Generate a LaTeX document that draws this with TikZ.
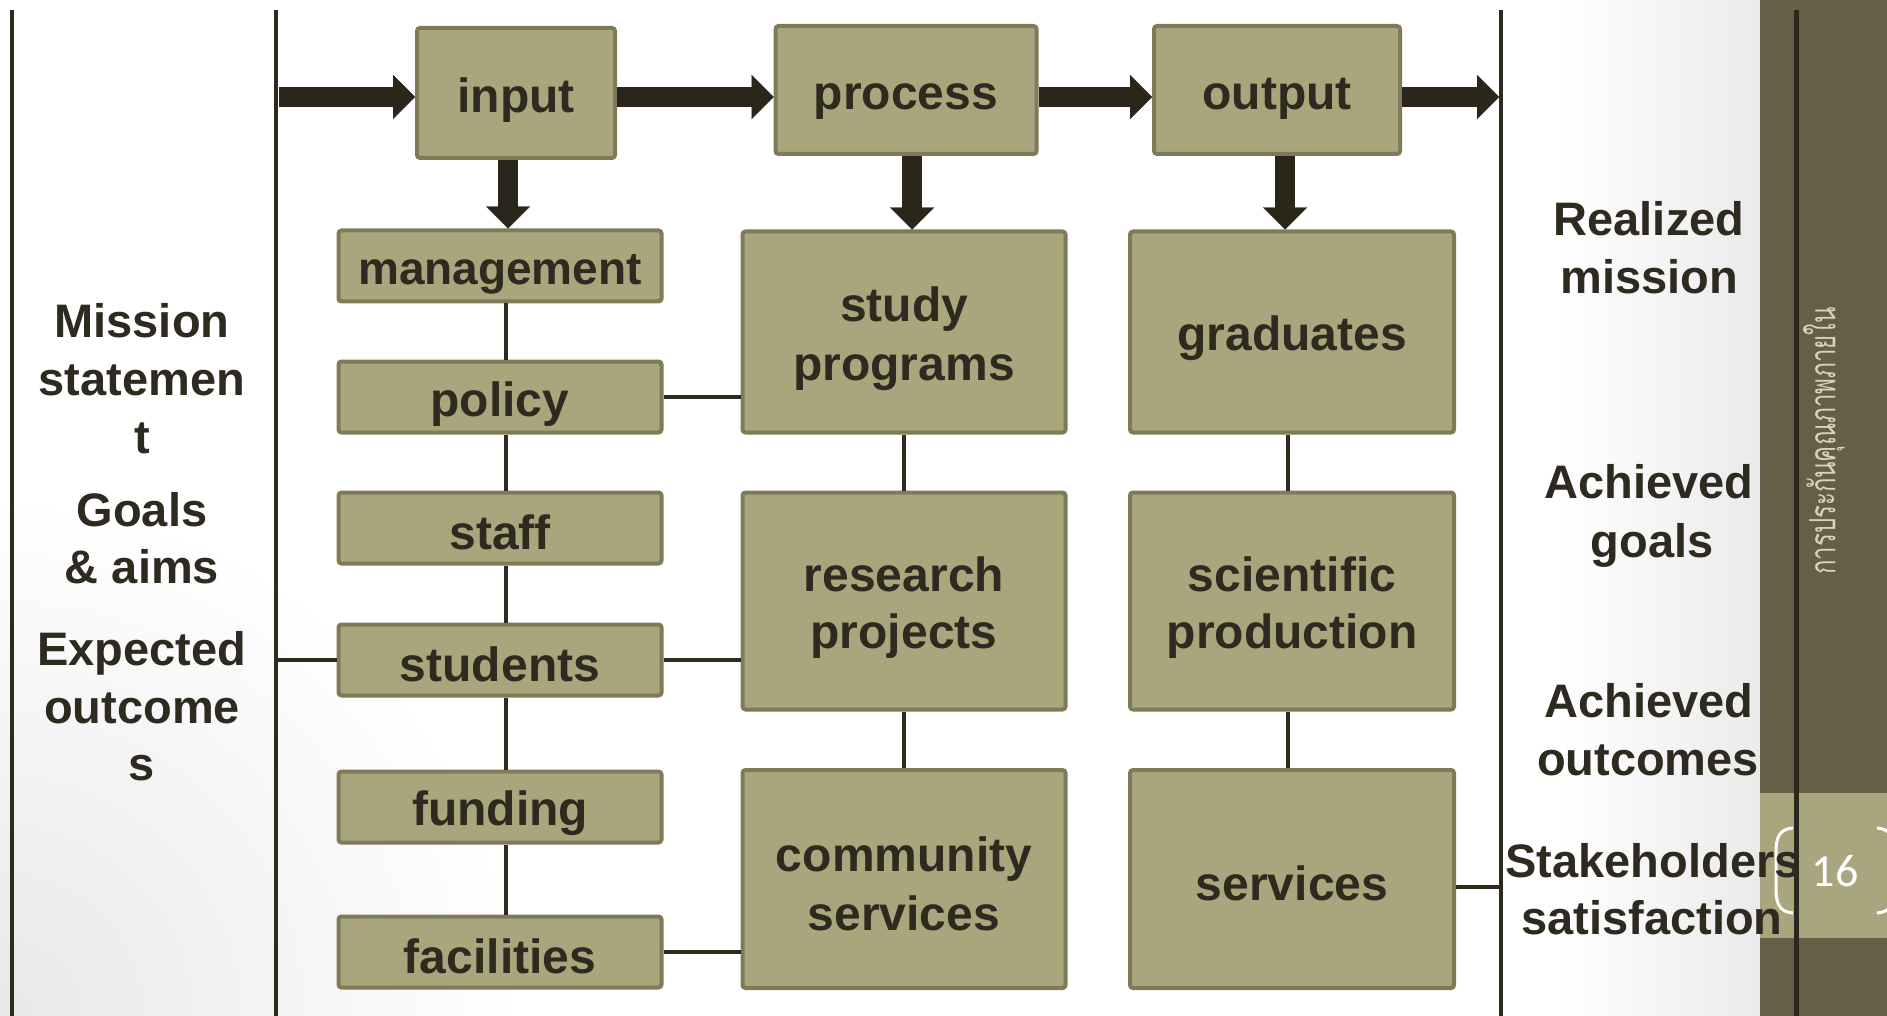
\documentclass[tikz,border=0pt]{standalone}
\usepackage{fontspec}
\setmainfont{Liberation Sans}
\newfontfamily\thaifont[Script=Thai]{Loma}
\newfontfamily\numfont{Carlito}
\usetikzlibrary{arrows.meta,calc}
\definecolor{boxfill}{HTML}{A9A57C}
\definecolor{boxborder}{HTML}{7F7A58}
\definecolor{txt}{HTML}{2E2A1F}
\definecolor{linec}{HTML}{2E2A20}
\definecolor{arrowc}{HTML}{2A2619}
\definecolor{sidebar}{HTML}{665E47}
\definecolor{sidelight}{HTML}{A9A57E}
\definecolor{sideline}{HTML}{2B281E}
\definecolor{thaic}{HTML}{D9D4B4}
\newcommand{\boxstrut}{\rule[-0.10em]{0pt}{1.10em}}
\begin{document}
\begin{tikzpicture}[x=1pt,y=-1pt,
  box/.style={draw=boxborder, line width=4pt, fill=boxfill, rounded corners=3pt,
    inner sep=0pt, align=center, text=txt, font=\bfseries\fontsize{48}{57}\selectfont},
  lbox/.style={box, minimum width=323pt, minimum height=71pt},
  cbox/.style={box, minimum width=323pt},
  lbl/.style={text=txt, font=\bfseries\fontsize{47}{57}\selectfont, anchor=base, inner sep=0pt},
  link/.style={draw=linec, line width=4.5pt},
  frame/.style={draw=linec, line width=4pt},
  bigarrow/.style={draw=arrowc, line width=20pt,
    -{Triangle[length=22pt,width=44pt,line width=0.01pt]}}
]
\useasboundingbox (0,0) rectangle (1887,1016);
\fill[white] (0,0) rectangle (1887,1016);
\shade[left color=white, right color=black!8] (1560,0) rectangle (1760,1016);
\shade[inner color=black!9, outer color=white] (0,1016) circle[radius=520pt];

% sidebar
\fill[sidebar] (1760,0) rectangle (1887,1016);
\fill[sidelight] (1760,793) rectangle (1887,938);
\draw[sideline, line width=5pt] (1796,10) -- (1796,1016);
\node[rotate=90, text=thaic, font=\thaifont\fontsize{24}{24}\selectfont, inner sep=0pt] (thai) at (1824,441) {\scalebox{1}[1.5]{การประกันคุณภาพภายใน}};
\node[text=white, font=\numfont\fontsize{46}{46}\selectfont, inner sep=0pt] (pnum) at (1835,871) {16};
\draw[white, line width=3pt] (1793,828) .. controls (1779,829) and (1776,838) .. (1776,852) -- (1776,889) .. controls (1776,903) and (1779,912) .. (1793,913);
\draw[white, line width=3pt] (1877,828) .. controls (1891,829) and (1894,838) .. (1894,852) -- (1894,889) .. controls (1894,903) and (1891,912) .. (1877,913);

% frame lines
\draw[frame] (12,10) -- (12,1016);
\draw[frame] (276,10) -- (276,1016);
\draw[frame] (1501,10) -- (1501,1016);
\coordinate (lline) at (276,0);
\coordinate (rline) at (1501,0);

% top row
\node[box, minimum width=198pt, minimum height=130pt] (input) at (516,93) {\boxstrut input};
\node[box, minimum width=261pt, minimum height=128pt] (process) at (906,90) {\boxstrut process};
\node[box, minimum width=246pt, minimum height=128pt] (output) at (1277,90) {\boxstrut output};

% left column
\node[lbox, font=\bfseries\fontsize{46}{57}\selectfont] (management) at (500,266) {\boxstrut management};
\node[lbox] (policy) at (500,397) {\boxstrut policy};
\node[lbox] (staff) at (500,528) {\boxstrut staff};
\node[lbox] (students) at (500,660) {\boxstrut students};
\node[lbox] (funding) at (500,807) {\boxstrut funding};
\node[lbox] (facilities) at (500,952) {\boxstrut facilities};

% middle column
\node[cbox, minimum height=201pt] (study) at (904,332) {\boxstrut study\\\boxstrut programs};
\node[cbox, minimum height=217pt] (research) at (904,601) {\boxstrut research\\\boxstrut projects};
\node[cbox, minimum height=218pt] (community) at (904,879) {\boxstrut community\\\boxstrut services};

% right column
\node[cbox, minimum width=324pt, minimum height=201pt] (graduates) at (1292,332) {\boxstrut graduates};
\node[cbox, minimum width=324pt, minimum height=217pt] (scientific) at (1292,601) {\boxstrut scientific\\\boxstrut production};
\node[cbox, minimum width=324pt, minimum height=218pt] (services) at (1292,879) {\boxstrut services};

% big arrows
\coordinate (ay) at (0,97);
\coordinate (astart) at (279,97);
\coordinate (aend) at (1499,97);
\draw[bigarrow] (astart) -- (input.west |- ay);
\draw[bigarrow] (input.east |- ay) -- (process.west |- ay);
\draw[bigarrow] (process.east |- ay) -- (output.west |- ay);
\draw[bigarrow] (output.east |- ay) -- (aend);
\coordinate (d1) at (508,0);
\coordinate (d2) at (912,0);
\coordinate (d3) at (1285,0);
\draw[bigarrow] (input.south -| d1) -- (management.north -| d1);
\draw[bigarrow] (process.south -| d2) -- (study.north -| d2);
\draw[bigarrow] (output.south -| d3) -- (graduates.north -| d3);

% links
\coordinate (lx) at (506,0);
\draw[link] (management.south -| lx) -- (policy.north -| lx);
\draw[link] (policy.south -| lx) -- (staff.north -| lx);
\draw[link] (staff.south -| lx) -- (students.north -| lx);
\draw[link] (students.south -| lx) -- (funding.north -| lx);
\draw[link] (funding.south -| lx) -- (facilities.north -| lx);
\draw[link] (policy.east) -- (study.west |- policy.east);
\draw[link] (students.east) -- (research.west |- students.east);
\draw[link] (facilities.east) -- (community.west |- facilities.east);
\draw[link] (lline |- students.west) -- (students.west);
\draw[link] (study.south) -- (research.north);
\draw[link] (research.south) -- (community.north);
\coordinate (rx) at (1288,0);
\draw[link] (graduates.south -| rx) -- (scientific.north -| rx);
\draw[link] (scientific.south -| rx) -- (services.north -| rx);
\coordinate (sy) at (0,887);
\draw[link] (services.east |- sy) -- (rline |- sy);

% left texts
\node[lbl] (l1) at (142,337) {Mission};
\node[lbl] (l2) at (142,395) {statemen};
\node[lbl] (l3) at (142,453) {t};
\node[lbl] (l4) at (142,526) {Goals};
\node[lbl] (l5) at (142,583) {\& aims};
\node[lbl] (l6) at (142,665) {Expected};
\node[lbl] (l7) at (142,723) {outcome};
\node[lbl] (l8) at (142,780) {s};

% right texts
\node[lbl] (r1) at (1649,236) {Realized};
\node[lbl] (r2) at (1649,294) {mission};
\node[lbl] (r3) at (1649,498) {Achieved};
\node[lbl] (r4) at (1652,557) {goals};
\node[lbl] (r5) at (1649,717) {Achieved};
\node[lbl] (r6) at (1648,775) {outcomes};
\node[lbl] (r7) at (1653,877) {Stakeholders};
\node[lbl] (r8) at (1652,934) {satisfaction};
\end{tikzpicture}
\end{document}
